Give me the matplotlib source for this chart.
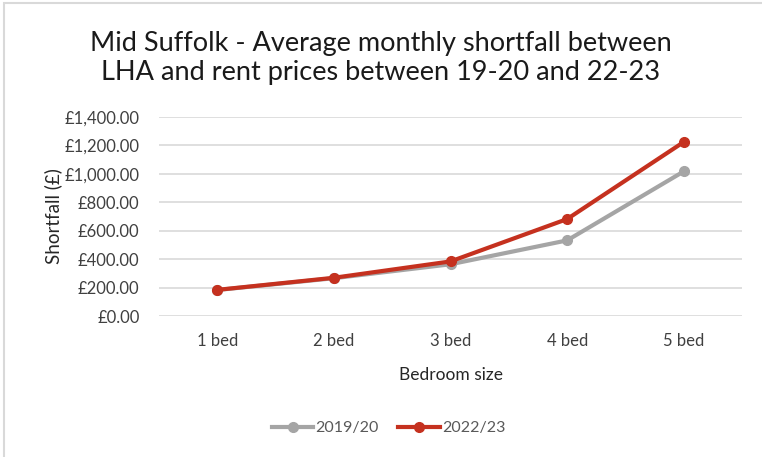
import matplotlib
matplotlib.use("Agg")
import matplotlib.pyplot as plt
from matplotlib.ticker import FuncFormatter
from matplotlib.patches import Rectangle

categories = ["1 bed", "2 bed", "3 bed", "4 bed", "5 bed"]
s2019 = [183, 266, 364, 532, 1017]
s2022 = [184, 269, 384, 682, 1224]
series_labels = ["2019/20", "2022/23"]
title = "Mid Suffolk - Average monthly shortfall between\nLHA and rent prices between 19-20 and 22-23"

plt.rcParams['font.family'] = ['Lato', 'DejaVu Sans']

fig = plt.figure(figsize=(7.62, 4.57), dpi=100)
ax = fig.add_axes([0.2087, 0.3085, 0.7651, 0.4355])

x = list(range(len(categories)))
ax.plot(x, s2019, color='#A5A5A5', lw=3, marker='o', ms=7, label=series_labels[0], zorder=3)
ax.plot(x, s2022, color='#C5311F', lw=3, marker='o', ms=7, label=series_labels[1], zorder=4)

ax.set_xlim(-0.5, len(categories) - 0.5)
ax.set_ylim(0, 1400)
ax.set_yticks(range(0, 1401, 200))
ax.yaxis.set_major_formatter(FuncFormatter(lambda v, p: f"£{v:,.2f}"))
ax.set_xticks(x)
ax.set_xticklabels(categories)
ax.grid(axis='y', color='#D9D9D9', lw=1.2)
ax.set_axisbelow(True)
for s in ax.spines.values():
    s.set_visible(False)
ax.tick_params(axis='both', length=0, labelsize=12, colors='#404040')
ax.tick_params(axis='y', pad=14)
ax.tick_params(axis='x', pad=12)

ax.set_xlabel("Bedroom size", fontsize=12.5, color='#262626', labelpad=13)
ax.set_ylabel("Shortfall (£)", fontsize=13.5, color='#262626', labelpad=2)

fig.text(0.5, 0.873, title, ha='center', va='center', fontsize=19.5,
         color='#1a1a1a', linespacing=1.2)

leg = fig.legend(loc='center', bbox_to_anchor=(0.51, 0.063), ncol=2, frameon=False,
                 fontsize=11.5, handlelength=2.6, columnspacing=1.2, handletextpad=0.15,
                 markerscale=1.0)
for t in leg.get_texts():
    t.set_color('#595959')

fig.patches.append(Rectangle((0.005, -0.02), 1.1, 1.013, transform=fig.transFigure,
                             fill=False, edgecolor='#D9D9D9', lw=1.5))

fig.savefig("out.png", dpi=100)
